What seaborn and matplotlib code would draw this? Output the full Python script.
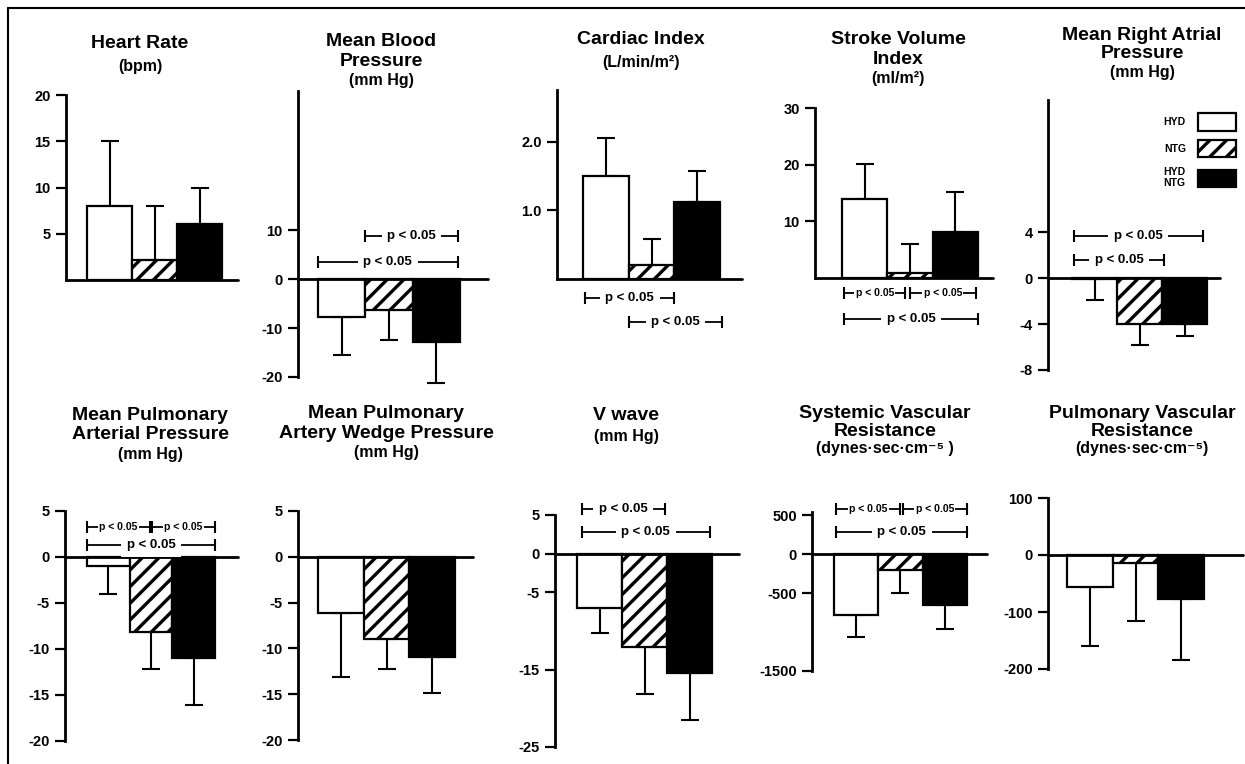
import seaborn as sns
import matplotlib.pyplot as plt
from matplotlib.patches import Patch
from matplotlib.lines import Line2D

W, H = 1245, 764

groups = ["HYD", "NTG", "HYD+NTG"]
bar_colors = {"HYD": "white", "NTG": "white", "HYD+NTG": "black"}

# mean change and one-sided SD for each panel (HYD, NTG, HYD+NTG)
heart_rate = [8.0, 2.2, 6.1]
heart_rate_sd = [7.0, 5.8, 3.9]
mean_bp = [-7.8, -6.2, -12.8]
mean_bp_sd = [7.6, 6.2, 8.4]
cardiac_index = [1.5, 0.2, 1.12]
cardiac_index_sd = [0.55, 0.38, 0.45]
stroke_index = [14.0, 0.9, 8.2]
stroke_index_sd = [6.1, 5.1, 6.9]
right_atrial = [-0.05, -4.0, -4.0]
right_atrial_sd = [1.85, 1.8, 1.0]
pulm_arterial = [-1.0, -8.1, -11.0]
pulm_arterial_sd = [3.0, 4.1, 5.1]
wedge = [-6.1, -9.0, -10.9]
wedge_sd = [7.0, 3.3, 4.0]
v_wave = [-7.0, -12.1, -15.4]
v_wave_sd = [3.2, 6.0, 6.1]
svr = [-780, -200, -650]
svr_sd = [290, 300, 310]
pvr = [-57, -14, -77]
pvr_sd = [103, 101, 108]

titles = [
    ["Heart Rate", "(bpm)"],
    ["Mean Blood", "Pressure", "(mm Hg)"],
    ["Cardiac Index", "(L/min/m²)"],
    ["Stroke Volume", "Index", "(ml/m²)"],
    ["Mean Right Atrial", "Pressure", "(mm Hg)"],
    ["Mean Pulmonary", "Arterial Pressure", "(mm Hg)"],
    ["Mean Pulmonary", "Artery Wedge Pressure", "(mm Hg)"],
    ["V wave", "(mm Hg)"],
    ["Systemic Vascular", "Resistance", "(dynes·sec·cm⁻⁵ )"],
    ["Pulmonary Vascular", "Resistance", "(dynes·sec·cm⁻⁵)"],
]

yticks = [
    [5, 10, 15, 20],
    [-20, -10, 0, 10],
    [1.0, 2.0],
    [10, 20, 30],
    [-8, -4, 0, 4],
    [-20, -15, -10, -5, 0, 5],
    [-20, -15, -10, -5, 0, 5],
    [-25, -15, -5, 0, 5],
    [-1500, -500, 0, 500],
    [-200, -100, 0, 100],
]
ytick_labels = [
    ["5", "10", "15", "20"],
    ["-20", "-10", "0", "10"],
    ["1.0", "2.0"],
    ["10", "20", "30"],
    ["-8", "-4", "0", "4"],
    ["-20", "-15", "-10", "-5", "0", "5"],
    ["-20", "-15", "-10", "-5", "0", "5"],
    ["-25", "-15", "-5", "0", "5"],
    ["-1500", "-500", "0", "500"],
    ["-200", "-100", "0", "100"],
]

# significance brackets: (from bar pos, to bar pos, y value, small text?)
brackets = [
    [],
    [(0.5, 2.45, 8.8, False), (-0.5, 2.45, 3.6, False)],
    [(-0.45, 1.5, -0.27, False), (0.5, 2.55, -0.62, False)],
    [(-0.45, 0.9, -2.6, True), (1.0, 2.45, -2.6, True), (-0.45, 2.5, -7.2, False)],
    [(-0.45, 2.4, 3.7, False), (-0.45, 1.55, 1.6, False)],
    [(-0.5, 0.98, 3.3, True), (1.03, 2.5, 3.3, True), (-0.5, 2.5, 1.3, False)],
    [],
    [(-0.4, 1.45, 5.8, False), (-0.4, 2.45, 2.8, False)],
    [(-0.45, 1.0, 580, True), (1.05, 2.5, 580, True), (-0.45, 2.5, 280, False)],
    [],
]

means = [heart_rate, mean_bp, cardiac_index, stroke_index, right_atrial,
         pulm_arterial, wedge, v_wave, svr, pvr]
sds = [heart_rate_sd, mean_bp_sd, cardiac_index_sd, stroke_index_sd, right_atrial_sd,
       pulm_arterial_sd, wedge_sd, v_wave_sd, svr_sd, pvr_sd]

# layout in pixels: axis x, axis end, bar left, bar right, ylo, yhi, px of ylo, px of yhi
layout = [
    (66, 238, 87, 222, 0, 20, 280, 95),
    (298, 488, 318, 460, -20, 38.5, 377, 91),
    (557, 742, 583, 720, 0, 2.75, 279, 90),
    (815, 993, 842, 978, 0, 30, 278, 108),
    (1048, 1220, 1072, 1207, -8, 15.5, 370, 100),
    (65, 238, 87, 215, -20, 5, 741, 511),
    (298, 473, 318, 455, -20, 5, 740, 511),
    (555, 739, 577, 712, -25, 5, 747, 515),
    (812, 987, 834, 967, -1500, 540, 671, 512),
    (1048, 1243, 1067, 1204, -200, 100, 669, 498),
]
# title centre x, first line y, line step (pixels)
title_pos = [
    (140, 44, 23), (381, 41, 20), (641, 40, 23), (898, 40, 19), (1142, 36, 18),
    (150, 415, 20), (386, 413, 20), (626, 415, 22), (885, 413, 18), (1142, 413, 18),
]

sns.set_style("white")
plt.rcParams['font.family'] = ['Liberation Sans', 'DejaVu Sans']
plt.rcParams['hatch.linewidth'] = 2.4
plt.rcParams['axes.unicode_minus'] = False
plt.rcParams['text.color'] = 'black'
plt.rcParams['ytick.color'] = 'black'
plt.rcParams['axes.edgecolor'] = 'black'


def bracket(ax, x0, x1, y, small):
    ax.plot([x0, x1], [y, y], color="black", lw=1.3, clip_on=False, zorder=4)
    ax.plot([x0, x1], [y, y], ls="none", marker="|", ms=8, mew=1.5,
            color="black", clip_on=False, zorder=4)
    ax.text((x0 + x1) / 2, y, "p < 0.05", ha="center", va="center",
            fontsize=7.5 if small else 9.5, weight="bold", zorder=5, clip_on=False,
            bbox=dict(facecolor="white", edgecolor="none", pad=1.0 if small else 4))


fig = plt.figure(figsize=(W / 100, H / 100), dpi=100)

for i in range(10):
    ax_x, ax_end, bl, br, ylo, yhi, plo, phi = layout[i]
    ax = fig.add_axes([ax_x / W, 1 - plo / H, (ax_end - ax_x) / W, (plo - phi) / H])

    sns.barplot(x=groups, y=means[i], hue=groups, palette=bar_colors,
                order=groups, hue_order=groups, width=1.0, edgecolor="black",
                linewidth=1.6, errorbar=None, legend=False, ax=ax, zorder=3)
    for p in ax.patches:
        cx = p.get_x() + p.get_width() / 2
        if abs(cx - 1) < 0.1:
            p.set_hatch("//")

    lower = [s if m <= 0 else 0 for m, s in zip(means[i], sds[i])]
    upper = [s if m > 0 else 0 for m, s in zip(means[i], sds[i])]
    eb = ax.errorbar([0, 1, 2], means[i], yerr=[lower, upper], fmt="none",
                     ecolor="black", elinewidth=1.5, capsize=6.5, capthick=1.5, zorder=2)
    for art in list(eb.lines[1]) + list(eb.lines[2]):
        art.set_clip_on(False)

    s = (br - bl) / 3
    ax.set_xlim(-0.5 - (bl - ax_x) / s, 2.5 + (ax_end - br) / s)
    ax.set_ylim(ylo, yhi)
    ax.axhline(0, color="black", lw=2, clip_on=False, zorder=4)

    ax.set_xticks([])
    ax.set_xlabel("")
    ax.set_ylabel("")
    ax.set_yticks(yticks[i])
    ax.set_yticklabels(ytick_labels[i], fontsize=10.5, weight="bold", color="black")
    ax.tick_params(axis="y", direction="out", length=7, width=1.6, pad=4, left=True,
                   color="black")
    for side in ["top", "right", "bottom"]:
        ax.spines[side].set_visible(False)
    ax.spines["left"].set_linewidth(2)
    ax.spines["left"].set_color("black")
    ax.patch.set_alpha(0)

    for x0, x1, y, small in brackets[i]:
        bracket(ax, x0, x1, y, small)

    cx, ty, step = title_pos[i]
    lines = titles[i]
    for k, line in enumerate(lines):
        unit = k == len(lines) - 1
        fig.text(cx / W, 1 - (ty + k * step) / H, line, ha="center", va="center",
                 fontsize=11.5 if unit else 14, weight="bold", color="black")

    if i == 4:
        handles = [Patch(facecolor="white", edgecolor="black", lw=1.6),
                   Patch(facecolor="white", edgecolor="black", lw=1.6, hatch="//"),
                   Patch(facecolor="black", edgecolor="black", lw=1.6)]
        ax.legend(handles, ["HYD", "NTG", "HYD\nNTG"], loc="upper right",
                  bbox_to_anchor=(1241 / W, 1 - 108 / H), bbox_transform=fig.transFigure,
                  markerfirst=False, frameon=False, handlelength=3.6, handleheight=2.2,
                  labelspacing=0.9, handletextpad=1.2, borderpad=0,
                  prop={"size": 7.5, "weight": "bold"})

# frame of the original figure
fig.add_artist(Line2D([8 / W, 1], [1 - 8 / H, 1 - 8 / H], color="black", lw=1.5))
fig.add_artist(Line2D([8 / W, 8 / W], [0, 1 - 8 / H], color="black", lw=1.5))

fig.savefig("out.png", dpi=100)
